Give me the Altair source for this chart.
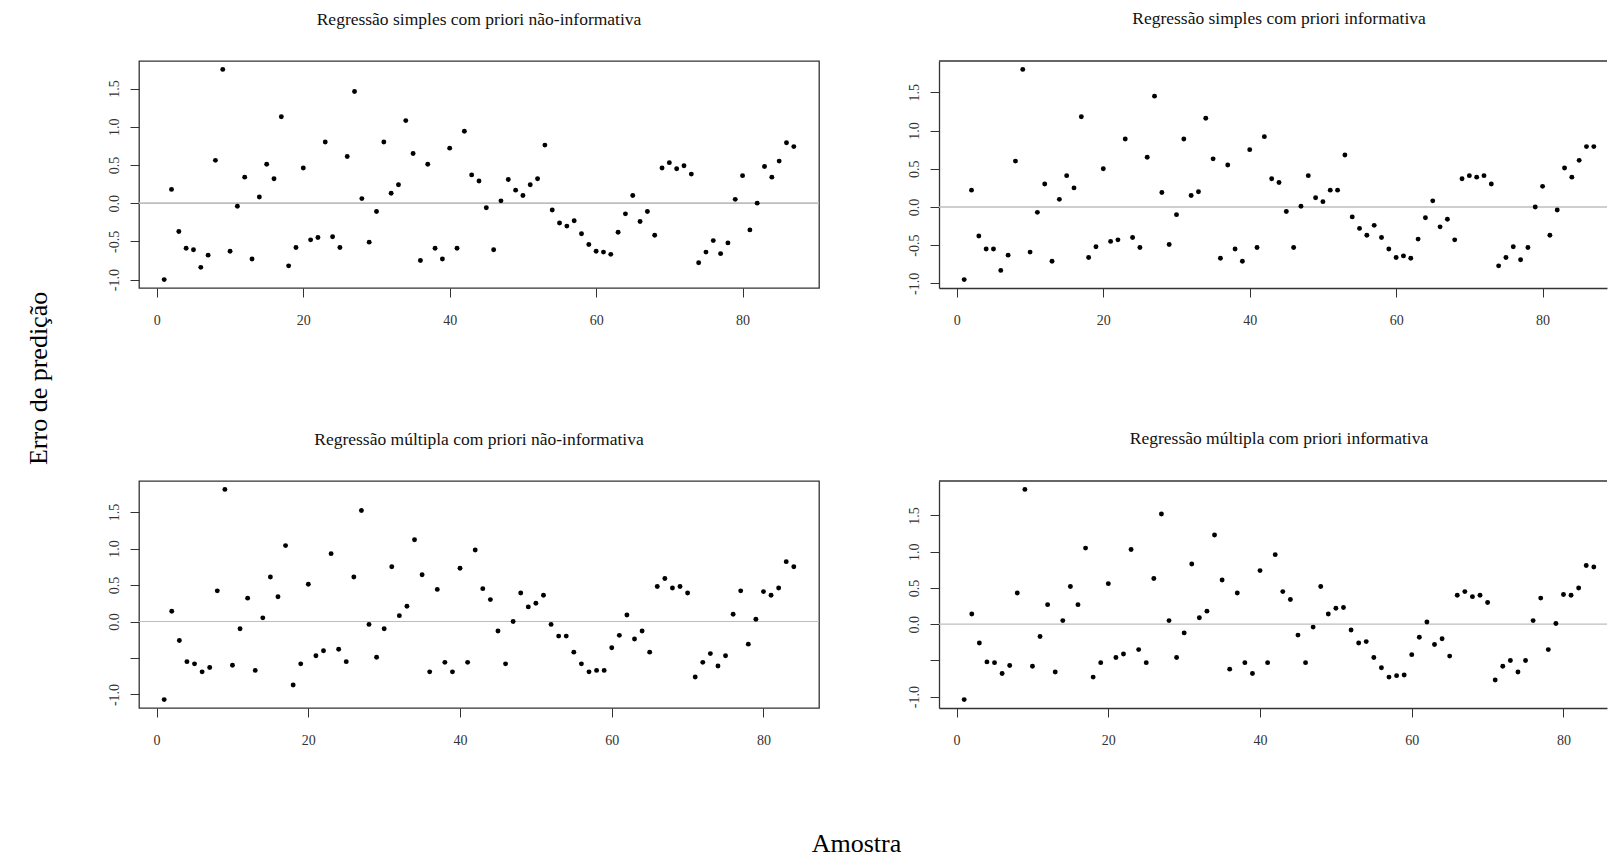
import altair as alt
import pandas as pd
import numpy as np

# ---------------- data ----------------
titles = [
    "Regressão simples com priori não-informativa",
    "Regressão simples com priori informativa",
    "Regressão múltipla com priori não-informativa",
    "Regressão múltipla com priori informativa",
]

simples_nao_inf = [
    -1.00, 0.18, -0.37, -0.59, -0.61, -0.84, -0.68, 0.56, 1.75, -0.63,
    -0.04, 0.34, -0.73, 0.08, 0.51, 0.32, 1.13, -0.82, -0.58, 0.46,
    -0.48, -0.45, 0.80, -0.44, -0.58, 0.61, 1.46, 0.06, -0.51, -0.11,
    0.80, 0.13, 0.24, 1.08, 0.65, -0.75, 0.51, -0.59, -0.73, 0.72,
    -0.59, 0.94, 0.37, 0.29, -0.06, -0.61, 0.03, 0.31, 0.17, 0.10,
    0.24, 0.32, 0.76, -0.09, -0.26, -0.30, -0.23, -0.40, -0.54, -0.63,
    -0.64, -0.67, -0.38, -0.14, 0.10, -0.24, -0.11, -0.42, 0.46, 0.53,
    0.45, 0.49, 0.38, -0.78, -0.64, -0.49, -0.66, -0.52, 0.05, 0.36,
    -0.35, 0.00, 0.48, 0.34, 0.55, 0.79, 0.74,
]

simples_inf = [
    -0.95, 0.22, -0.38, -0.55, -0.55, -0.83, -0.63, 0.60, 1.80, -0.59,
    -0.07, 0.30, -0.71, 0.10, 0.41, 0.25, 1.18, -0.66, -0.52, 0.50,
    -0.45, -0.43, 0.89, -0.40, -0.53, 0.65, 1.45, 0.19, -0.49, -0.10,
    0.89, 0.15, 0.20, 1.16, 0.63, -0.67, 0.55, -0.55, -0.71, 0.75,
    -0.53, 0.92, 0.37, 0.32, -0.06, -0.53, 0.01, 0.41, 0.12, 0.07,
    0.22, 0.22, 0.68, -0.13, -0.28, -0.37, -0.24, -0.40, -0.55, -0.66,
    -0.64, -0.67, -0.42, -0.14, 0.08, -0.26, -0.16, -0.43, 0.37, 0.41,
    0.39, 0.41, 0.30, -0.77, -0.66, -0.52, -0.69, -0.53, 0.00, 0.27,
    -0.37, -0.04, 0.51, 0.39, 0.61, 0.79, 0.79,
]

multipla_nao_inf = [
    -1.07, 0.14, -0.26, -0.55, -0.58, -0.69, -0.63, 0.42, 1.81, -0.60,
    -0.10, 0.32, -0.67, 0.05, 0.61, 0.34, 1.04, -0.87, -0.58, 0.51,
    -0.47, -0.40, 0.93, -0.38, -0.55, 0.61, 1.52, -0.04, -0.49, -0.10,
    0.75, 0.08, 0.21, 1.12, 0.64, -0.69, 0.44, -0.56, -0.69, 0.73,
    -0.56, 0.98, 0.45, 0.30, -0.13, -0.58, 0.00, 0.39, 0.20, 0.25,
    0.36, -0.04, -0.20, -0.20, -0.42, -0.58, -0.69, -0.67, -0.67, -0.36,
    -0.19, 0.09, -0.24, -0.13, -0.42, 0.48, 0.59, 0.46, 0.48, 0.39,
    -0.76, -0.56, -0.44, -0.61, -0.47, 0.10, 0.42, -0.31, 0.03, 0.41,
    0.36, 0.46, 0.82, 0.75,
]

multipla_inf = [
    -1.04, 0.14, -0.26, -0.52, -0.53, -0.68, -0.57, 0.43, 1.86, -0.58,
    -0.17, 0.27, -0.66, 0.05, 0.52, 0.27, 1.05, -0.73, -0.53, 0.56,
    -0.46, -0.41, 1.03, -0.35, -0.53, 0.63, 1.52, 0.05, -0.46, -0.12,
    0.83, 0.09, 0.18, 1.23, 0.61, -0.62, 0.43, -0.53, -0.68, 0.74,
    -0.53, 0.96, 0.45, 0.34, -0.15, -0.53, -0.04, 0.52, 0.14, 0.22,
    0.23, -0.08, -0.26, -0.24, -0.46, -0.60, -0.73, -0.71, -0.70, -0.42,
    -0.18, 0.03, -0.28, -0.20, -0.44, 0.40, 0.45, 0.38, 0.40, 0.30,
    -0.77, -0.58, -0.50, -0.66, -0.50, 0.05, 0.36, -0.35, 0.01, 0.41,
    0.40, 0.50, 0.81, 0.79,
]

x_ticks = [0, 20, 40, 60, 80]
y_ticks = [-1.0, -0.5, 0.0, 0.5, 1.0, 1.5]

# ---------------- style ----------------
FONT = "Liberation Serif"
W_L, W_R, H = 680, 668, 227
BOX = "#333333"


def panel(vals, title, right, bottom):
    n = len(vals)
    df = pd.DataFrame({"Amostra": np.arange(1, n + 1), "Erro": vals})
    xr = n - 1
    x0, x1 = 1 - 0.04 * xr, n + 0.04 * xr
    width = W_L
    if right:
        width = W_R
        x1 = x0 + (x1 - x0) * W_R / W_L
    ymin, ymax = min(vals), max(vals)
    yr = ymax - ymin
    y0, y1 = ymin - 0.04 * yr, ymax + 0.04 * yr

    xscale = alt.Scale(domain=[x0, x1], zero=False, nice=False)
    yscale = alt.Scale(domain=[y0, y1], zero=False, nice=False)

    base_lab = "(datum.value < 0 ? '-' : '') + format(abs(datum.value), '.1f')"
    if bottom:
        lab = "datum.value == -0.5 ? '' : " + base_lab
    else:
        lab = base_lab

    xaxis = alt.Axis(values=x_ticks, format="d", title=None, grid=False,
                     domain=right, domainColor=BOX, domainWidth=1.3,
                     tickSize=9, tickColor=BOX, tickWidth=1,
                     labelFont=FONT, labelFontSize=14, labelColor="#333",
                     labelPadding=16, labelFlush=False, labelOverlap=False)
    yaxis = alt.Axis(values=y_ticks, title=None, grid=False,
                     domain=right, domainColor=BOX, domainWidth=1.3,
                     tickSize=9, tickColor=BOX, tickWidth=1,
                     labelFont=FONT, labelFontSize=14, labelColor="#333",
                     labelAngle=270, labelAlign="center", labelBaseline="bottom",
                     labelPadding=9, labelFlush=False, labelOverlap=False,
                     labelExpr=lab)

    pts = alt.Chart(df).mark_circle(size=24, color="black", opacity=1).encode(
        x=alt.X("Amostra:Q", scale=xscale, axis=xaxis),
        y=alt.Y("Erro:Q", scale=yscale, axis=yaxis),
    )
    zero = alt.Chart(pd.DataFrame({"z": [0.0]})).mark_rule(
        color="#bebebe", strokeWidth=1.6 if not bottom else 1.2
    ).encode(y=alt.Y("z:Q", scale=yscale))

    layers = [zero, pts]
    if right:
        top = alt.Chart(pd.DataFrame({"a": [0]})).mark_rule(
            color=BOX, strokeWidth=1.3
        ).encode(x=alt.value(0), x2=alt.value(W_R), y=alt.value(0))
        layers.append(top)

    t = alt.TitleParams(
        title, font=FONT, fontSize=17.5, fontWeight="normal", color="#111",
        offset=19, baseline="alphabetic", frame="group", anchor="middle",
        dx=6 if right else 0,
    )
    ch = alt.layer(*layers).properties(width=width, height=H, title=t)
    if right:
        ch = ch.properties(view=alt.ViewBackground(stroke="transparent"))
    return ch


c1 = panel(simples_nao_inf, titles[0], False, False)
c2 = panel(simples_inf, titles[1], True, False)
c3 = panel(multipla_nao_inf, titles[2], False, True)
c4 = panel(multipla_inf, titles[3], True, True)

grid = alt.concat(
    c1, c2, c3, c4, columns=2,
    spacing={"row": 193, "column": 120}, bounds="flush",
).properties(
    title=alt.TitleParams("Erro de predição", orient="left", font=FONT,
                          fontSize=26, fontWeight="normal", color="black",
                          offset=54, anchor="middle")
)

chart = alt.vconcat(grid).properties(
    title=alt.TitleParams("Amostra", orient="bottom", font=FONT,
                          fontSize=26, fontWeight="normal", color="black",
                          offset=83, baseline="top", anchor="middle", dx=39),
    padding={"left": 18, "top": 1, "right": 0, "bottom": 0},
).configure_view(stroke=BOX, strokeWidth=1.3)

chart.save("out.html", embed_options={"renderer": "svg", "actions": False})
